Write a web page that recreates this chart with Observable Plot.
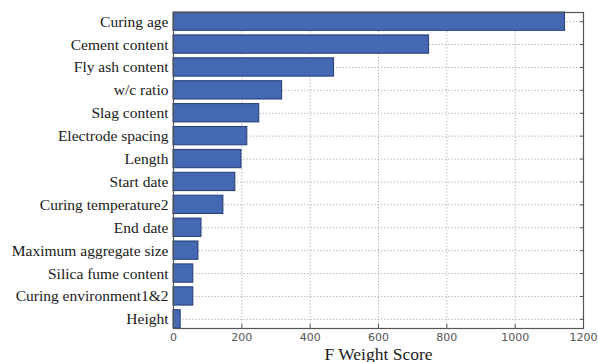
<!DOCTYPE html>
<html>
<head>
<meta charset="utf-8">
<script src="https://cdn.jsdelivr.net/npm/d3@7"></script>
<script src="https://cdn.jsdelivr.net/npm/@observablehq/plot@0.6"></script>
<style>
  html, body { margin: 0; padding: 0; background: #fff; }
  #chart svg { display: block; }
</style>
</head>
<body>
<div id="chart"></div>
<script>
// Feature importance by F weight score, largest first
const features = [
  "Curing age",
  "Cement content",
  "Fly ash content",
  "w/c ratio",
  "Slag content",
  "Electrode spacing",
  "Length",
  "Start date",
  "Curing temperature2",
  "End date",
  "Maximum aggregate size",
  "Silica fume content",
  "Curing environment1&2",
  "Height"
];
const scores = [1146, 748, 470, 318, 251, 216, 199, 181, 146, 82, 73, 58, 58, 21];
const xTicks = [0, 200, 400, 600, 800, 1000, 1200];
const xLabel = "F Weight Score";

const rows = features.map((feature, i) => ({feature, score: scores[i]}));

const serif = "'Liberation Serif', 'Times New Roman', serif";
const sans = "'DejaVu Sans', sans-serif";

const chart = Plot.plot({
  width: 598,
  height: 362,
  marginLeft: 173,
  marginRight: 15,
  marginTop: 12,
  marginBottom: 34,
  style: {background: "#fff"},
  x: {domain: [0, 1200], ticks: xTicks},
  y: {domain: features, paddingInner: 0.2, paddingOuter: 0, round: false},
  marks: [
    Plot.gridX(xTicks, {stroke: "#999", strokeOpacity: 0.8, strokeDasharray: "1.2,2"}),
    Plot.gridY({stroke: "#999", strokeOpacity: 0.8, strokeDasharray: "1.2,2"}),
    Plot.barX(rows, {x: "score", y: "feature", fill: "#4468b2", stroke: "#233c73", strokeWidth: 1}),
    Plot.frame({stroke: "#555", strokeWidth: 1.2}),
    Plot.axisX({ticks: xTicks, tickSize: -4, tickPadding: 9, tickFormat: (d) => String(d),
      stroke: "#555", color: "#555", fontFamily: sans, fontSize: 11, label: null}),
    Plot.axisY({anchor: "left", tickSize: 0, tickPadding: 5, fontFamily: serif, fontSize: 15.5,
      color: "#1a1a1a", label: null}),
    Plot.axisY({anchor: "right", tickSize: -4, stroke: "#555", text: null, label: null}),
    Plot.text([xLabel], {frameAnchor: "bottom", lineAnchor: "bottom", dy: 31, fontFamily: serif,
      fontSize: 17.5, fill: "#1a1a1a"})
  ]
});
document.getElementById("chart").append(chart);
</script>
</body>
</html>
